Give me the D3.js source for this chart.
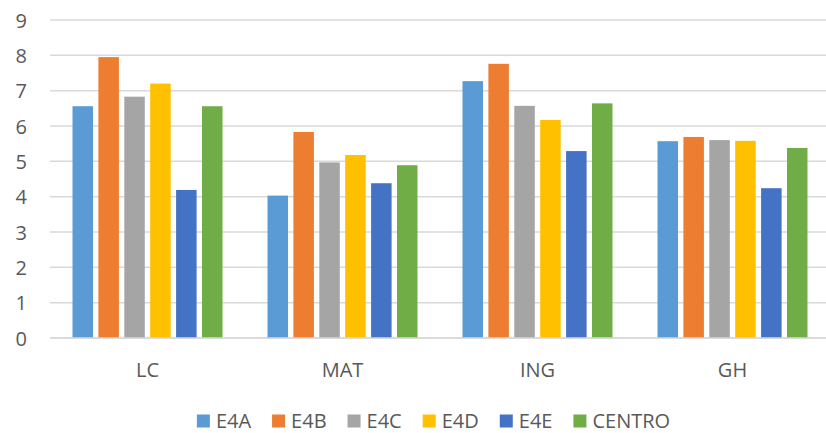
<!DOCTYPE html>
<html>
<head>
<meta charset="utf-8">
<script src="https://cdn.jsdelivr.net/npm/d3@7"></script>
<style>
  html, body { margin: 0; padding: 0; background: #fff; }
  svg { display: block; font-family: "Open Sans", "Liberation Sans", sans-serif; }
</style>
</head>
<body>
<svg id="chart" width="826" height="433"></svg>
<script>
const categories = ["LC", "MAT", "ING", "GH"];
const seriesNames = ["E4A", "E4B", "E4C", "E4D", "E4E", "CENTRO"];
const E4A    = [6.56, 4.03, 7.27, 5.57];
const E4B    = [7.95, 5.83, 7.76, 5.69];
const E4C    = [6.83, 4.97, 6.57, 5.60];
const E4D    = [7.20, 5.18, 6.17, 5.58];
const E4E    = [4.19, 4.38, 5.29, 4.24];
const CENTRO = [6.56, 4.89, 6.64, 5.38];
const yTicks = [0, 1, 2, 3, 4, 5, 6, 7, 8, 9];
const colors = ["#5B9BD5", "#ED7D31", "#A5A5A5", "#FFC000", "#4472C4", "#70AD47"];

const seriesValues = [E4A, E4B, E4C, E4D, E4E, CENTRO];

const svg = d3.select("#chart");
const plotLeft = 50, plotRight = 830, plotTop = 20, plotBottom = 338;

const x0 = d3.scaleBand().domain(categories).range([plotLeft, plotRight]).paddingInner(0).paddingOuter(0);
const groupPad = 22.5;
const x1 = d3.scaleBand().domain(seriesNames)
  .range([groupPad, x0.bandwidth() - groupPad]).paddingInner(0.208).paddingOuter(0);
const y = d3.scaleLinear().domain([0, 9]).range([plotBottom, plotTop]);

const textColor = "#595959";

// gridlines
svg.append("g").selectAll("line").data(yTicks).join("line")
  .attr("x1", plotLeft).attr("x2", plotRight)
  .attr("y1", d => y(d)).attr("y2", d => y(d))
  .attr("stroke", "#D9D9D9").attr("stroke-width", 1.5);

// y labels
const yAxis = d3.axisLeft(y).tickValues(yTicks).tickSize(0).tickPadding(0).tickFormat(d3.format("d"));
const yg = svg.append("g").attr("transform", "translate(27,0)").call(yAxis);
yg.select(".domain").remove();
yg.selectAll("text").attr("fill", textColor).attr("font-size", 20)
  .attr("font-family", "'Open Sans', sans-serif").attr("dy", "0.35em");

// bars
const groups = svg.append("g").selectAll("g").data(categories).join("g")
  .attr("transform", c => `translate(${x0(c)},0)`);
groups.selectAll("rect")
  .data((c, ci) => seriesNames.map((s, si) => ({ s, si, v: seriesValues[si][ci] })))
  .join("rect")
  .attr("x", d => x1(d.s))
  .attr("width", x1.bandwidth())
  .attr("y", d => y(d.v))
  .attr("height", d => y(0) - y(d.v))
  .attr("fill", d => colors[d.si]);

// x axis line
svg.append("line").attr("x1", plotLeft).attr("x2", plotRight).attr("y1", y(0)).attr("y2", y(0))
  .attr("stroke", "#D9D9D9").attr("stroke-width", 1.5);

// x labels
const xAxis = d3.axisBottom(x0).tickSize(0).tickPadding(0);
const xg = svg.append("g").attr("transform", "translate(0,377)").call(xAxis);
xg.select(".domain").remove();
xg.selectAll("text").attr("fill", textColor).attr("font-size", 20)
  .attr("font-family", "'Open Sans', sans-serif").attr("dy", 0).attr("y", 0);

// legend
const legend = svg.append("g");
const items = legend.selectAll("g").data(seriesNames).join("g");
items.append("rect").attr("width", 13).attr("height", 13).attr("y", 414.5)
  .attr("fill", (d, i) => colors[i]);
items.append("text").text(d => d).attr("x", 19).attr("y", 427.5)
  .attr("fill", textColor).attr("font-size", 20);
let cx = 0;
const pos = [];
items.each(function () {
  const w = d3.select(this).select("text").node().getComputedTextLength();
  pos.push(cx);
  cx += 19 + w + 21;
});
const total = cx - 21;
const start = 433.5 - total / 2;
items.attr("transform", (d, i) => `translate(${start + pos[i]},0)`);
</script>
</body>
</html>
